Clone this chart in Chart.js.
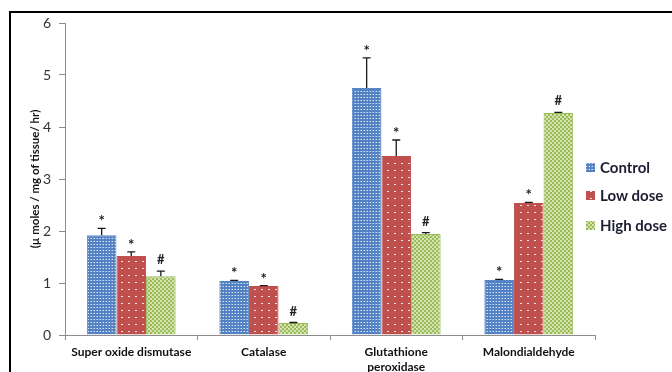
<!DOCTYPE html>
<html>
<head>
<meta charset="utf-8">
<script src="https://cdn.jsdelivr.net/npm/chart.js@4.4.0/dist/chart.umd.min.js"></script>
<style>
  html, body { margin: 0; padding: 0; background: #fff; }
  #wrap { width: 672px; height: 372px; position: relative; }
</style>
</head>
<body>
<div id="wrap"><canvas id="enzymeChart" width="672" height="372"></canvas></div>
<script>
// values
const categories = ['Super oxide dismutase', 'Catalase', ['Glutathione', 'peroxidase'], 'Malondialdehyde'];
const seriesNames = ['Control', 'Low dose', 'High dose'];
const control = [1.92, 1.04, 4.75, 1.06];
const controlErr = [0.13, 0.01, 0.58, 0.01];
const lowDose = [1.52, 0.94, 3.44, 2.54];
const lowDoseErr = [0.08, 0.01, 0.31, 0.01];
const highDose = [1.13, 0.23, 1.94, 4.27];
const highDoseErr = [0.10, 0.01, 0.03, 0.01];
const controlMarks = ['*', '*', '*', '*'];
const lowDoseMarks = ['*', '*', '*', '*'];
const highDoseMarks = ['#', '#', '#', '#'];
const yMin = 0, yMax = 6, yStep = 1;
const yTitle = '(\u00b5 moles / mg of tissue/ hr)';

function makePattern(size, base, draw) {
    var c = document.createElement('canvas');
    c.width = size; c.height = size;
    var g = c.getContext('2d');
    g.fillStyle = base;
    g.fillRect(0, 0, size, size);
    draw(g);
    return g.createPattern(c, 'repeat');
}

let ctx = document.getElementById('enzymeChart').getContext('2d');

var bluePat = makePattern(3, '#5282c4', function(g){
    g.fillStyle = 'rgba(255,255,255,0.8)';
    g.fillRect(1, 1, 1, 1);
    g.fillStyle = 'rgba(255,255,255,0.35)';
    g.fillRect(0, 1, 1, 1);
});
var redPat = makePattern(7, '#C0504D', function(g){
    g.fillStyle = 'rgba(255,255,255,0.85)';
    g.fillRect(2, 2, 2, 1);
});
var greenPat = makePattern(4, '#9BBB59', function(g){
    g.fillStyle = 'rgba(235,245,215,0.7)';
    g.fillRect(0, 0, 2, 2);
    g.fillRect(2, 2, 2, 2);
});

var errors = [controlErr, lowDoseErr, highDoseErr];
var marks = [controlMarks, lowDoseMarks, highDoseMarks];
var legendFills = [bluePat, redPat, greenPat];

const framePlugin = {
    id: 'frame',
    beforeDraw: function(chart){
        var c = chart.ctx;
        c.save();
        c.fillStyle = '#fff';
        c.fillRect(0, 0, chart.width, chart.height);
        c.strokeStyle = '#000';
        c.lineWidth = 2;
        c.strokeRect(10, 12, 720, 420);
        c.restore();
    }
};

const errorPlugin = {
    id: 'errorBars',
    afterDatasetsDraw: function(chart){
        var c = chart.ctx;
        var y = chart.scales.y;
        c.save();
        chart.data.datasets.forEach(function(ds, i){
            var meta = chart.getDatasetMeta(i);
            meta.data.forEach(function(bar, j){
                var top = y.getPixelForValue(ds.data[j] + errors[i][j]);
                c.strokeStyle = '#1a1a1a';
                c.lineWidth = 1.3;
                c.beginPath();
                c.moveTo(bar.x, bar.y);
                c.lineTo(bar.x, top);
                c.moveTo(bar.x - 4, top);
                c.lineTo(bar.x + 4, top);
                c.stroke();

                var m = marks[i][j];
                c.fillStyle = '#222';
                c.textAlign = 'center';
                c.textBaseline = 'alphabetic';
                if (m === '#') {
                    c.font = 'bold 13px Lato';
                    c.fillText(m, bar.x, top - 7);
                } else {
                    c.font = 'bold 15px Lato';
                    c.fillText(m, bar.x, top - 2);
                }
            });
        });
        c.restore();
    }
};

const legendPlugin = {
    id: 'sideLegend',
    afterDraw: function(chart){
        var c = chart.ctx;
        var rows = [168, 196, 226];
        c.save();
        seriesNames.forEach(function(name, i){
            c.fillStyle = legendFills[i];
            c.fillRect(586, rows[i] - 5, 9, 9);
            c.fillStyle = '#1d1d33';
            c.font = 'bold 15px Lato';
            c.textAlign = 'left';
            c.textBaseline = 'middle';
            c.fillText(name, 600, rows[i]);
        });
        c.restore();
    }
};

new Chart(ctx, {
    type: 'bar',
    data: {
        labels: categories,
        datasets: [
            { label: seriesNames[0], data: control, backgroundColor: bluePat, borderColor: '#5a86c4', borderWidth: 1 },
            { label: seriesNames[1], data: lowDose, backgroundColor: redPat, borderColor: '#c0504d', borderWidth: 1 },
            { label: seriesNames[2], data: highDose, backgroundColor: greenPat, borderColor: '#9bbb59', borderWidth: 1 }
        ]
    },
    plugins: [framePlugin, errorPlugin, legendPlugin],
    options: {
        responsive: false,
        animation: false,
        devicePixelRatio: 1,
        layout: { padding: { left: 0, top: 23, right: 77, bottom: 0 } },
        datasets: {
            bar: { categoryPercentage: 0.67, barPercentage: 1.0 }
        },
        plugins: {
            legend: { display: false },
            tooltip: { enabled: false }
        },
        scales: {
            x: {
                afterFit: function(scale){ scale.height = 37; },
                grid: {
                    offset: true,
                    drawOnChartArea: false,
                    tickLength: 5,
                    color: '#8c8c8c'
                },
                border: { color: '#8c8c8c', width: 1 },
                ticks: {
                    autoSkip: false,
                    maxRotation: 0,
                    padding: 4,
                    color: '#111',
                    font: { family: 'Lato', size: 12, weight: 'bold', lineHeight: 1.3 }
                }
            },
            y: {
                min: yMin,
                max: yMax,
                afterFit: function(scale){ scale.width = 65; },
                grid: {
                    drawOnChartArea: false,
                    tickLength: 6,
                    color: '#8c8c8c'
                },
                border: { color: '#8c8c8c', width: 1 },
                ticks: {
                    stepSize: yStep,
                    padding: 8,
                    color: '#333',
                    font: { family: 'Lato', size: 14 }
                },
                title: {
                    display: true,
                    text: yTitle,
                    color: '#111',
                    padding: { top: 28, bottom: 0 },
                    font: { family: 'Lato', size: 11.5, weight: 'bold' }
                }
            }
        }
    }
});
</script>
</body>
</html>
